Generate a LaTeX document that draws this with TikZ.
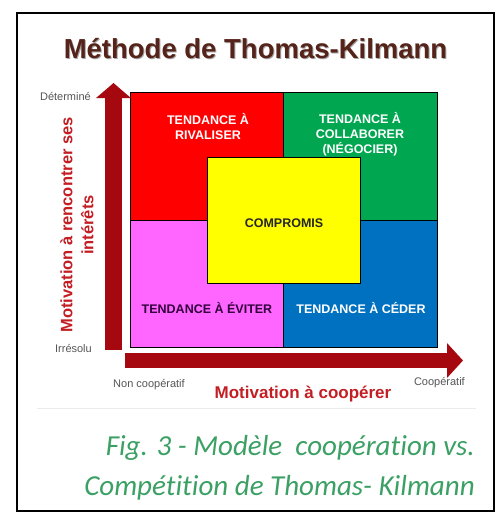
\documentclass[tikz,border=0pt]{standalone}
\usepackage{fontspec}
\setmainfont{Liberation Sans}
\newfontfamily\capfont[Ligatures={NoCommon}]{Carlito}
\usepackage{tikz}
\usetikzlibrary{arrows.meta,positioning}
\definecolor{titlebrown}{RGB}{85,35,25}
\definecolor{axisred}{RGB}{165,8,15}
\definecolor{labelred}{RGB}{195,30,35}
\definecolor{quadred}{RGB}{255,0,0}
\definecolor{quadgreen}{RGB}{0,166,80}
\definecolor{quadpink}{RGB}{255,102,255}
\definecolor{quadblue}{RGB}{0,112,192}
\definecolor{quadyellow}{RGB}{255,255,0}
\definecolor{capgreen}{RGB}{60,160,100}
\definecolor{endgray}{RGB}{85,85,85}

\begin{document}
\begin{tikzpicture}[x=1pt, y=-1pt]
\tikzstyle{every node} = [inner sep=0pt, align=center]
\tikzstyle{quadtext} = [font=\bfseries\fontsize{12.5}{15}\selectfont]
\tikzstyle{endtext} = [text=endgray, font=\fontsize{11}{13}\selectfont]
\useasboundingbox (0,0) rectangle (500,512);
\draw[line width=1.2pt] (17,13) rectangle (494,511);
\draw[black!8] (37,408) -- (476,408);
\node[text=black!35, font=\bfseries\fontsize{27.5}{30}\selectfont, anchor=base] at (256.5,59) {Méthode de Thomas-Kilmann};
\node[text=titlebrown, font=\bfseries\fontsize{27.5}{30}\selectfont, anchor=base] (title) at (255.5,58) {Méthode de Thomas-Kilmann};
\draw[line width=0.8pt, fill=quadred] (130,92) rectangle (283,220);
\draw[line width=0.8pt, fill=quadgreen] (283,92) rectangle (437,220);
\draw[line width=0.8pt, fill=quadpink] (130,220) rectangle (283,347);
\draw[line width=0.8pt, fill=quadblue] (283,220) rectangle (437,347);
\draw[line width=0.8pt, fill=quadyellow] (207,157) rectangle (360,283);
\node[quadtext, text=white] (rival) at (208,127) {TENDANCE À\\RIVALISER};
\node[quadtext, text=white] (collab) at (360,134) {TENDANCE À\\COLLABORER\\(NÉGOCIER)};
\node[quadtext, text=black!85, anchor=base] (compro) at (284,227) {COMPROMIS};
\node[quadtext, text={rgb,255:red,50;green,0;blue,60}, anchor=base] (eviter) at (207,313) {TENDANCE À ÉVITER};
\node[quadtext, text=white, anchor=base] (ceder) at (361,313) {TENDANCE À CÉDER};
\coordinate (ylow) at (113.5,350);
\coordinate (yhigh) at (113.5,83);
\coordinate (xlow) at (125,360.5);
\coordinate (xhigh) at (463,360.5);
\draw[axisred, line width=17pt, -{Triangle[length=15pt, width=34pt]}] (ylow) -- (yhigh);
\draw[axisred, line width=15pt, -{Triangle[length=16pt, width=34pt]}] (xlow) -- (xhigh);
\node[endtext, anchor=base east] (determ) at (91,100) {Déterminé};
\node[endtext, anchor=base east] (irres) at (92,352) {Irrésolu};
\node[endtext, anchor=base west] (noncoop) at (113,387) {Non coopératif};
\node[endtext, anchor=base east] (coop) at (465,385) {Coopératif};
\node[text=labelred, font=\bfseries\fontsize{17}{20}\selectfont, anchor=base] (xlabel) at (303,398) {Motivation à coopérer};
\node[text=labelred, font=\bfseries\fontsize{16.5}{21}\selectfont, rotate=90] (ylabel) at (77,225) {Motivation à rencontrer ses\\intérêts};
\node[text=capgreen, font=\capfont\itshape\fontsize{29}{40}\selectfont, anchor=base east] (cap1) at (475,455) {Fig. 3 - Modèle \ coopération vs.};
\node[text=capgreen, font=\capfont\itshape\fontsize{29}{40}\selectfont, anchor=base east] (cap2) at (475,495) {Compétition de Thomas- Kilmann};
\end{tikzpicture}
\end{document}
